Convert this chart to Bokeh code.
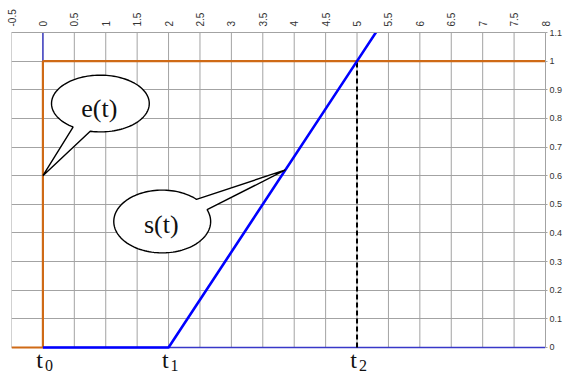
import math
import numpy as np
from bokeh.plotting import figure
from bokeh.models import Range1d, FixedTicker, Label
from bokeh.embed import file_html
from bokeh.resources import INLINE

# ---- data ----
x_ticks = [-0.5, 0, 0.5, 1, 1.5, 2, 2.5, 3, 3.5, 4, 4.5, 5, 5.5, 6, 6.5, 7, 7.5, 8]
x_tick_labels = ["-0.5", "0", "0.5", "1", "1.5", "2", "2.5", "3", "3.5", "4",
                 "4.5", "5", "5.5", "6", "6.5", "7", "7.5", "8"]
y_ticks = [0, 0.1, 0.2, 0.3, 0.4, 0.5, 0.6, 0.7, 0.8, 0.9, 1, 1.1]
y_tick_labels = ["0", "0.1", "0.2", "0.3", "0.4", "0.5", "0.6", "0.7", "0.8", "0.9", "1", "1.1"]

e_t = [-0.5, 0, 0, 8]          # input step e(t)
e_v = [0, 0, 1, 1]
s_t = [0, 2, 5, 5.6]           # output ramp s(t)
s_v = [0, 0, 1, 1.2]
t_marks = [0, 2, 5]            # t0, t1, t2
t_subs = ["0", "1", "2"]
t2_level = 1.0

# callouts: name, ellipse centre, radii (data units), tip, gap angles (deg)
callout_names = ["e(t)", "s(t)"]
callout_cx = [0.915, 1.899]
callout_cy = [0.852, 0.440]
callout_rx = [0.778, 0.771]
callout_ry = [0.099, 0.1096]
callout_tip_x = [0.0, 3.86]
callout_tip_y = [0.6, 0.62]
callout_gap = [(236, 258), (22, 45)]
callout_text_x = [0.897, 1.883]
callout_text_y = [0.804, 0.397]

GRID = "#a3a3a3"
ORANGE = "#cf6a16"
BLUE = "#0000ff"
AXBLUE = "#3838c8"

# the frame runs to the bottom of the canvas so that the t-labels below y=0 stay visible
Y_LO = -0.0908

p = figure(width=565, height=373, output_backend="svg", toolbar_location=None,
           x_range=Range1d(x_ticks[0], x_ticks[-1]), y_range=Range1d(Y_LO, y_ticks[-1]),
           x_axis_location="above", y_axis_location="right",
           min_border_left=11, min_border_right=17, min_border_top=32, min_border_bottom=0)
p.background_fill_color = "white"
p.border_fill_color = "white"
p.outline_line_color = None

xa = p.xaxis[0]
xa.ticker = FixedTicker(ticks=x_ticks)
xa.major_label_overrides = {t: l for t, l in zip(x_ticks, x_tick_labels)}
xa.major_label_orientation = math.pi / 2
xa.major_tick_out = 0
xa.major_tick_in = 0
xa.minor_tick_out = 0
xa.minor_tick_in = 0
xa.major_label_standoff = 6
xa.axis_line_color = GRID
xa.major_label_text_font = "Liberation Sans"
xa.major_label_text_font_size = "10px"
xa.major_label_text_color = "#333333"

ya = p.yaxis[0]
ya.ticker = FixedTicker(ticks=y_ticks)
ya.bounds = (y_ticks[0], y_ticks[-1])
ya.major_label_overrides = {t: l for t, l in zip(y_ticks, y_tick_labels)}
ya.major_tick_out = 2
ya.major_tick_in = 0
ya.minor_tick_out = 0
ya.minor_tick_in = 0
ya.major_tick_line_color = GRID
ya.major_label_standoff = 2
ya.axis_line_color = GRID
ya.major_label_text_font = "Liberation Sans"
ya.major_label_text_font_size = "9px"
ya.major_label_text_color = "#333333"

p.xgrid.visible = False
p.ygrid.ticker = FixedTicker(ticks=y_ticks)
p.ygrid.grid_line_color = GRID
p.ygrid.grid_line_width = 1

# vertical grid lines, only over the value range
n = len(x_ticks)
p.segment(x0=x_ticks, y0=[y_ticks[0]] * n, x1=x_ticks, y1=[y_ticks[-1]] * n,
          line_color=GRID, line_width=1)

# coordinate axes through the origin
p.line([0, x_ticks[-1]], [0, 0], line_color=AXBLUE, line_width=1.6)
p.line([0, 0], [0, y_ticks[-1]], line_color=AXBLUE, line_width=1.4)

# e(t)
p.line(e_t, e_v, line_color=ORANGE, line_width=2.2)
# t2 dashed marker
p.line([t_marks[2], t_marks[2]], [0, t2_level], line_color="black", line_width=2,
       line_dash="5 3")
# s(t)
p.line(s_t, s_v, line_color=BLUE, line_width=2.6)

# callouts
for i in range(len(callout_names)):
    a1, a2 = callout_gap[i]
    ang = np.radians(np.linspace(a2, a1 + 360, 120))
    xs = list(callout_cx[i] + callout_rx[i] * np.cos(ang)) + [callout_tip_x[i]]
    ys = list(callout_cy[i] + callout_ry[i] * np.sin(ang)) + [callout_tip_y[i]]
    p.patch(xs, ys, fill_color="white", line_color="black", line_width=1.4)
    p.add_layout(Label(x=callout_text_x[i], y=callout_text_y[i], text=callout_names[i],
                       y_offset=9,
                       text_font="Liberation Serif", text_font_size="26px",
                       text_align="center", text_baseline="middle", text_color="#111111"))

# t labels with subscripts
for tm, sub in zip(t_marks, t_subs):
    p.add_layout(Label(x=tm, y=0, text="t", x_offset=0, y_offset=-13,
                       text_align="right", text_baseline="middle",
                       text_font="Liberation Serif", text_font_size="24px",
                       text_color="#111111"))
    p.add_layout(Label(x=tm, y=0, text=sub, x_offset=2, y_offset=-18.5,
                       text_align="left", text_baseline="middle",
                       text_font="Liberation Serif", text_font_size="16px",
                       text_color="#111111"))

open("out.html", "w").write(file_html(p, INLINE))
